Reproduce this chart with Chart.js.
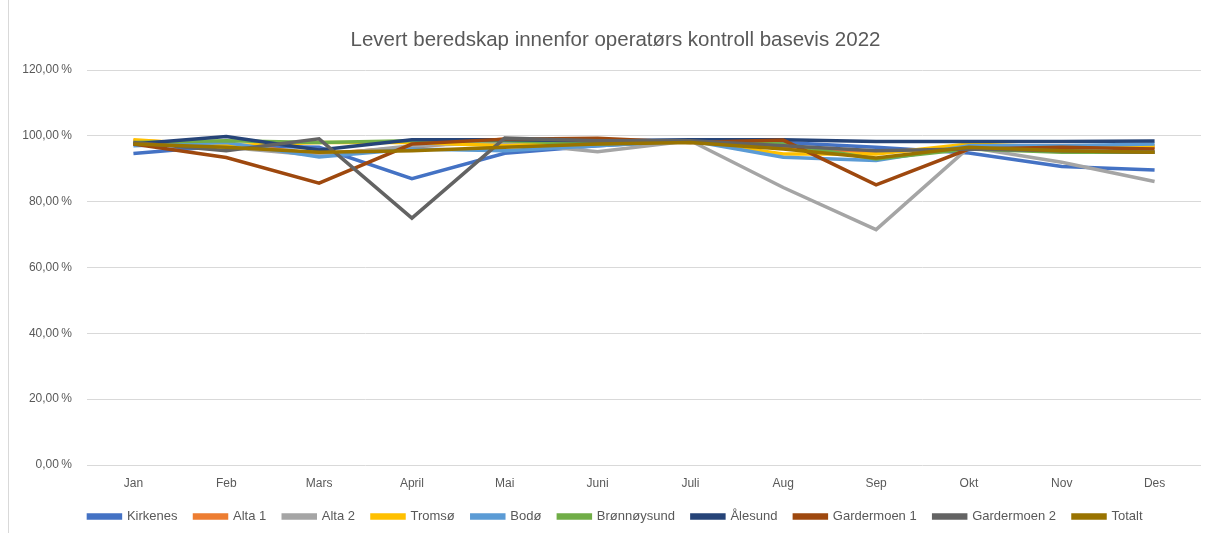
<!DOCTYPE html>
<html>
<head>
<meta charset="utf-8">
<script src="https://cdn.jsdelivr.net/npm/chart.js@4"></script>
<style>
  html, body { margin: 0; padding: 0; background: #fff; }
  #wrap { position: relative; width: 1208px; height: 533px; }
  #edge { position: absolute; left: 8px; top: 0; width: 1px; height: 533px; background: #D9D9D9; }
  canvas { position: absolute; left: 0; top: 0; }
</style>
</head>
<body>
<div id="wrap">
  <canvas id="c" width="1208" height="533"></canvas>
  <div id="edge"></div>
</div>
<script>
const categories = ["Jan","Feb","Mars","April","Mai","Juni","Juli","Aug","Sep","Okt","Nov","Des"];
const seriesNames = ["Kirkenes","Alta 1","Alta 2","Tromsø","Bodø","Brønnøysund","Ålesund","Gardermoen 1","Gardermoen 2","Totalt"];
const kirkenes    = [94.6, 97.0, 96.5, 87.0, 94.7, 97.0, 98.5, 98.0, 96.5, 94.8, 90.7, 89.6];
const alta1       = [98.5, 97.5, 94.5, 96.5, 99.0, 98.5, 98.5, 96.5, 95.0, 96.5, 97.0, 96.5];
const alta2       = [98.0, 96.5, 94.0, 97.0, 98.0, 95.2, 98.5, 84.3, 71.5, 96.5, 92.0, 86.1];
const tromso      = [98.8, 97.0, 98.0, 98.0, 97.0, 98.0, 98.5, 94.5, 94.5, 97.5, 96.5, 97.0];
const bodo        = [97.0, 98.0, 93.6, 96.0, 95.5, 97.0, 98.5, 93.5, 92.5, 97.0, 97.0, 97.5];
const bronnoysund = [98.0, 98.5, 98.0, 98.5, 98.5, 97.5, 98.5, 97.5, 93.0, 96.0, 95.0, 95.0];
const alesund     = [97.5, 99.8, 95.7, 98.8, 98.8, 98.5, 98.8, 98.8, 98.3, 98.3, 98.3, 98.4];
const gardermoen1 = [97.5, 93.4, 85.6, 97.5, 99.0, 99.3, 98.0, 98.7, 85.1, 96.0, 96.5, 96.0];
const gardermoen2 = [98.0, 95.5, 99.1, 75.0, 99.3, 98.5, 98.5, 97.0, 95.5, 96.0, 95.5, 95.0];
const totalt      = [97.5, 96.5, 95.0, 95.5, 96.5, 97.5, 98.0, 96.0, 93.3, 96.5, 95.5, 95.0];
const yTicks = [0, 20, 40, 60, 80, 100, 120];
const colors = ["#4472C4","#ED7D31","#A5A5A5","#FFC000","#5B9BD5","#70AD47","#264478","#9E480E","#636363","#997300"];

const allSeries = [kirkenes, alta1, alta2, tromso, bodo, bronnoysund, alesund, gardermoen1, gardermoen2, totalt];
const datasets = allSeries.map((vals, i) => ({
  label: seriesNames[i],
  data: vals,
  borderColor: colors[i],
  backgroundColor: colors[i],
  borderWidth: 3.5,
  pointRadius: 0,
  tension: 0,
  fill: false,
  order: -i
}));

const textColor = "#595959";
const fontFam = "'Liberation Sans', Arial, sans-serif";

// shift title and legend to be centred like the original
const shiftPlugin = {
  id: "shiftBlocks",
  afterLayout(chart) {
    const d = 10;
    [chart.titleBlock, chart.legend].forEach(b => {
      if (b) { b.left += d; b.right += d; }
    });
  }
};

new Chart(document.getElementById("c"), {
  type: "line",
  data: { labels: categories, datasets },
  plugins: [shiftPlugin],
  options: {
    responsive: false,
    animation: false,
    layout: { padding: { left: 10, right: 7, top: 0, bottom: 0 } },
    plugins: {
      title: {
        display: true,
        text: "Levert beredskap innenfor operatørs kontroll basevis 2022",
        color: textColor,
        font: { family: fontFam, size: 20.5, weight: "normal" },
        padding: { top: 28, bottom: 17.4 }
      },
      legend: {
        position: "bottom",
        labels: {
          color: textColor,
          font: { family: fontFam, size: 13 },
          boxWidth: 32,
          boxHeight: 3,
          padding: 17,
          sort: (a, b) => a.datasetIndex - b.datasetIndex
        }
      },
      tooltip: { enabled: false }
    },
    scales: {
      x: {
        offset: true,
        grid: { display: false, drawTicks: false },
        border: { display: false },
        ticks: { color: textColor, font: { family: fontFam, size: 12 }, padding: 11, maxRotation: 0 },
        afterFit: (s) => { s.height = 28; }
      },
      y: {
        min: 0, max: 120,
        afterBuildTicks: (s) => { s.ticks = yTicks.map(v => ({ value: v })); },
        grid: { color: "#D9D9D9", lineWidth: 1, drawTicks: false },
        border: { display: false },
        ticks: {
          color: textColor,
          font: { family: fontFam, size: 12 },
          padding: 15,
          callback: (v) => v.toFixed(2).replace(".", ",") + "\u202F%"
        },
        afterFit: (s) => { s.width = 77; }
      }
    }
  }
});
</script>
</body>
</html>
